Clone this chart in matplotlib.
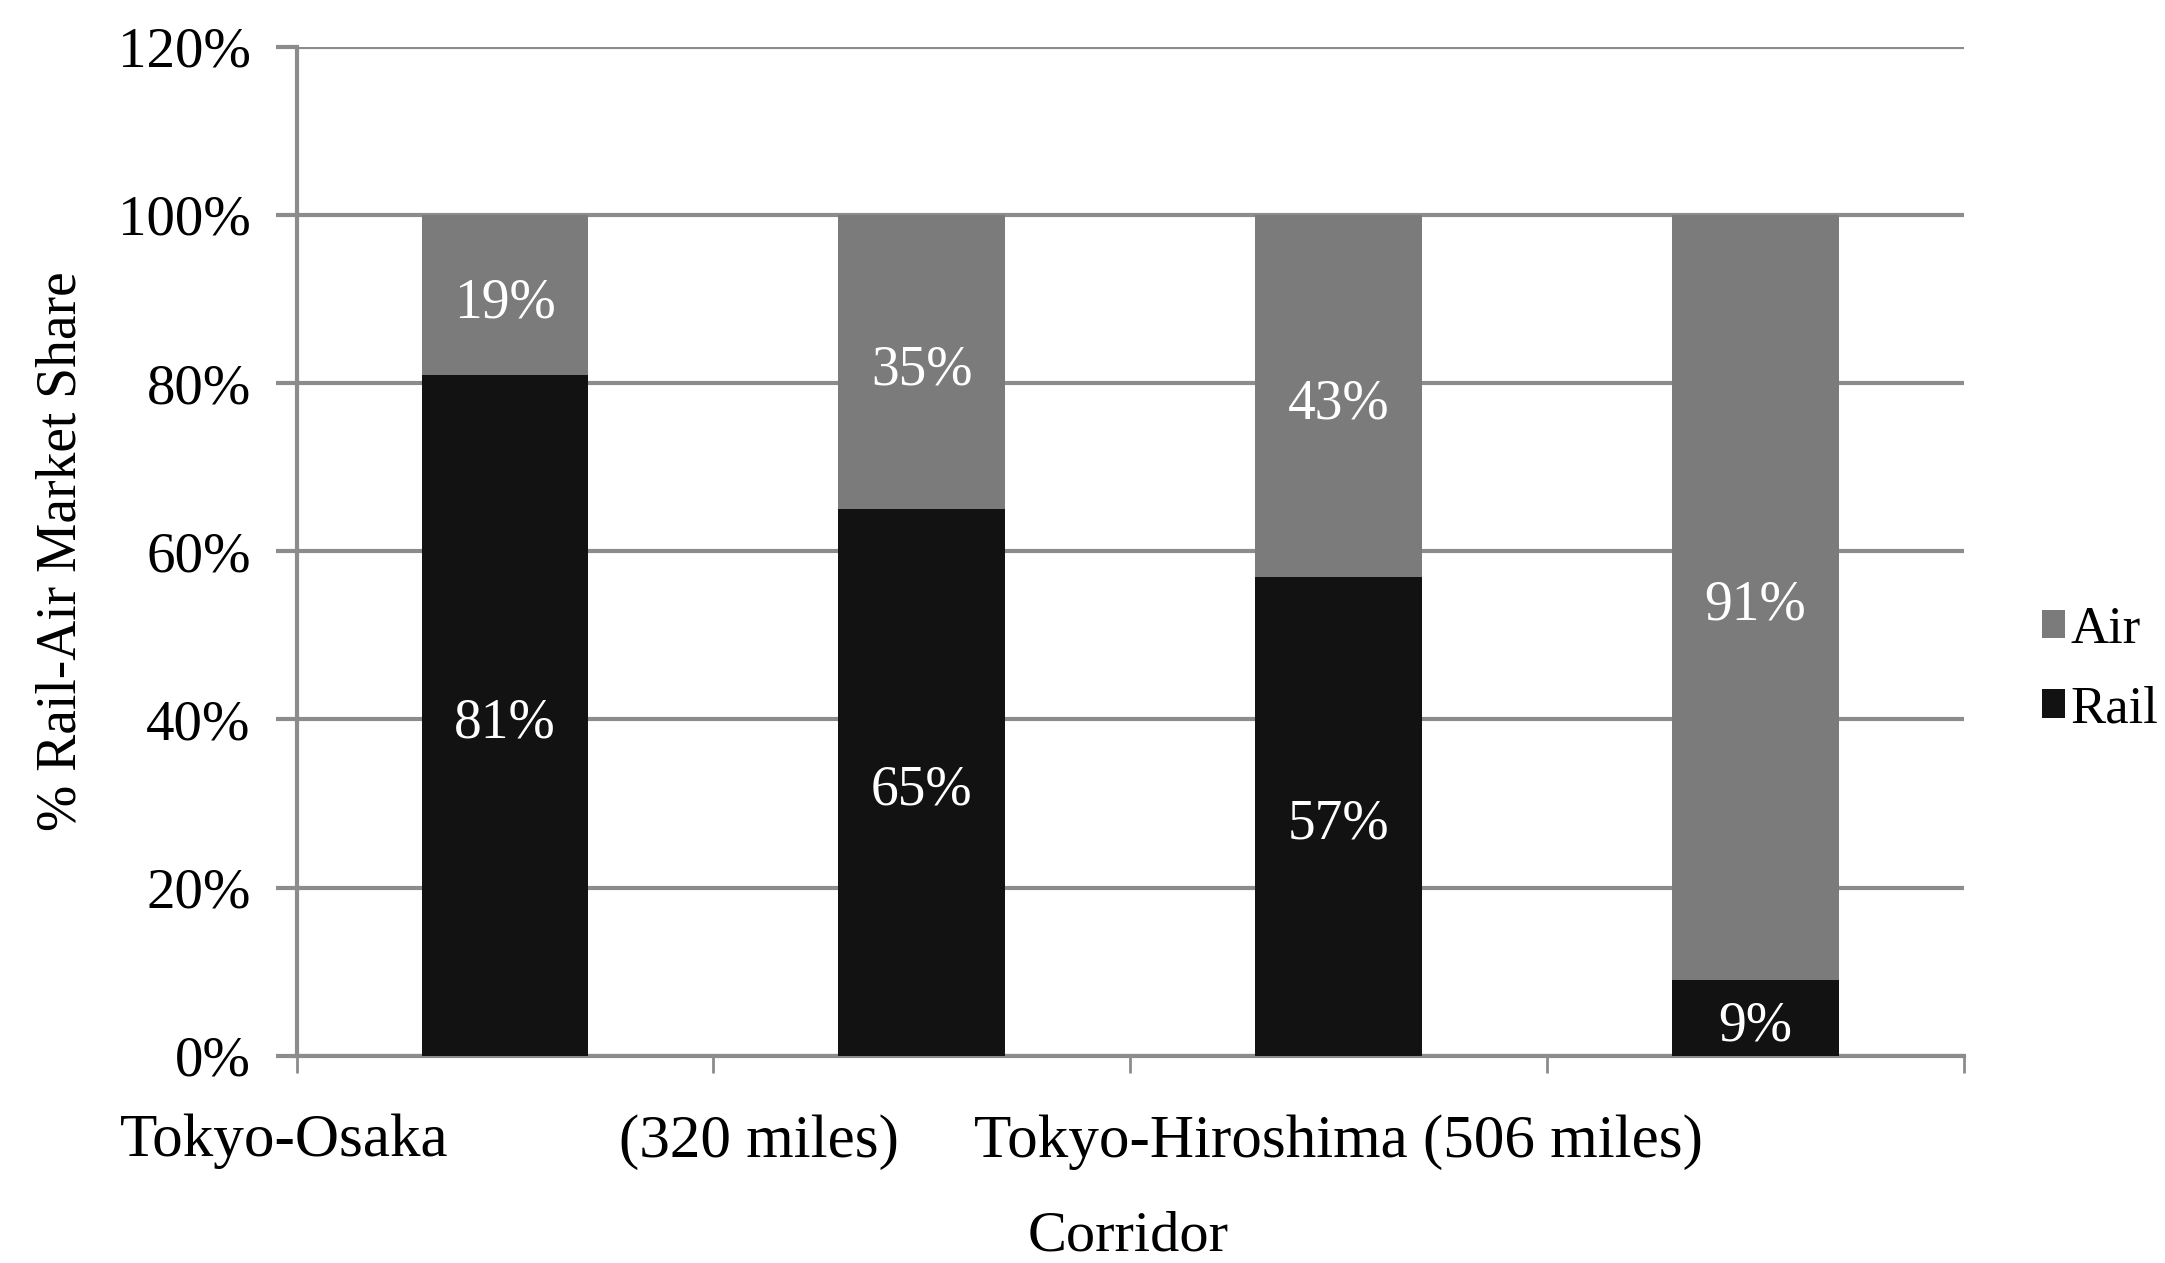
import matplotlib.pyplot as plt
from matplotlib.ticker import FuncFormatter

# Data
corridors = ['A', 'B', 'C', 'D']
rail = [81, 65, 57, 9]
air = [19, 35, 43, 91]
x_labels = ['Tokyo-Osaka', '(320 miles)', 'Tokyo-Hiroshima (506 miles)']
x_label_pos = [-0.53, 0.61, 2.0]

plt.rcParams['font.family'] = ['Liberation Serif', 'DejaVu Serif']

fig = plt.figure(figsize=(21.65, 12.63), dpi=100)
ax = fig.add_axes([0.137, 0.164, 0.770, 0.799])

grid_col = '#8c8c8c'
air_col = '#7b7b7b'
rail_col = '#121212'

xs = list(range(len(corridors)))
ax.bar(xs, rail, width=0.4, color=rail_col, label='Rail', zorder=3)
ax.bar(xs, air, width=0.4, bottom=rail, color=air_col, label='Air', zorder=3)

# value labels centred in each segment
for i in xs:
    ax.text(i, rail[i] / 2 - 1, f'{rail[i]}%', ha='center', va='center',
            color='white', fontsize=40, zorder=4)
    ax.text(i, rail[i] + air[i] / 2 - 1, f'{air[i]}%', ha='center', va='center',
            color='white', fontsize=40, zorder=4)

ax.set_xlim(-0.5, 3.5)
ax.set_ylim(0, 120)
ax.set_yticks(range(0, 121, 20))
ax.yaxis.set_major_formatter(FuncFormatter(lambda v, p: f'{int(v)}%'))
ax.grid(axis='y', color=grid_col, linewidth=3, zorder=0)
ax.set_axisbelow(True)

ax.set_xticks([-0.5, 0.5, 1.5, 2.5, 3.5])
ax.set_xticklabels([])
ax.tick_params(axis='x', length=12, width=2, color=grid_col, direction='out')
ax.tick_params(axis='y', length=15, width=3, color=grid_col, pad=18,
               labelsize=41)

for s in ['top', 'right']:
    ax.spines[s].set_visible(False)
for s in ['left', 'bottom']:
    ax.spines[s].set_color(grid_col)
    ax.spines[s].set_linewidth(3)

for lbl, pos in zip(x_labels, x_label_pos):
    ax.text(pos, -0.085, lbl, transform=ax.get_xaxis_transform(),
            ha='center', va='center', fontsize=44)

fig.text(0.521, 0.021, 'Corridor', ha='center', va='center', fontsize=42)
ax.set_ylabel('% Rail-Air Market Share', fontsize=40, labelpad=22)

handles, labels = ax.get_legend_handles_labels()
fig.legend(handles[::-1], labels[::-1], loc='center left',
           bbox_to_anchor=(0.943, 0.47), frameon=False, fontsize=38,
           handlelength=0.45, handleheight=0.45, handletextpad=0.1,
           labelspacing=0.6, borderpad=0, borderaxespad=0)

fig.savefig('out.png', dpi=100, facecolor='white')
